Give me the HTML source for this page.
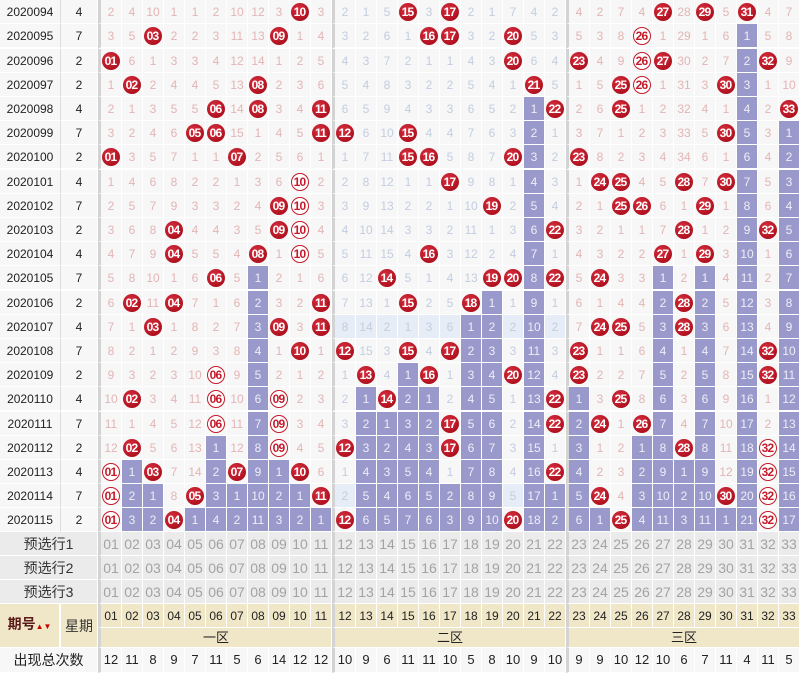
<!DOCTYPE html>
<html><head><meta charset="utf-8">
<style>
html,body{margin:0;padding:0;background:#fff;}
body{width:803px;height:671px;overflow:hidden;font-family:"Liberation Sans","Noto Sans CJK SC",sans-serif;}
table{border-collapse:separate;border-spacing:0;table-layout:fixed;}
td{padding:0;text-align:center;vertical-align:middle;border-right:1px solid #fff;border-bottom:1px solid #fff;background:#f7f7f7;font-size:12px;line-height:14px;color:#e3b5b5;height:23px;width:20px;overflow:hidden;white-space:nowrap;}
td.a{width:59px;color:#222;font-size:12px;border-right:1px solid #ddd;}
td.w{width:36px;color:#222;font-size:12px;}
tr.d td:nth-child(n+14){color:#c3cde0;}
tr.d td:nth-child(n+25){color:#e3b5b5;}
tr.d td:nth-child(3),tr.d td:nth-child(14),tr.d td:nth-child(25),td.s{border-left:3px solid #d3d3d3;}
tr.g td{border-bottom:2px solid #fff;}
tr.d td.p{background:#9999cc;color:#eeeef8;}
tr.d td.q{background:#e6edf7;}
b,i{display:inline-block;width:18px;height:18px;border-radius:50%;box-sizing:border-box;line-height:18px;font-size:12px;font-weight:bold;font-style:normal;letter-spacing:-0.8px;text-indent:-1px;vertical-align:middle;}
b{background:radial-gradient(circle at 40% 35%,#d8303f,#b0111f 70%,#8e0c18);color:#fff;}
i{background:#fff;border:1px solid #c41a2a;color:#c41a2a;line-height:16px;}
tr.y td{background:#ebebeb;color:#a3a3a3;font-size:14px;height:23px;}
tr.y td.l{color:#333;font-size:14px;}
tr.h td{background:#f0e6c8;color:#222;font-size:12px;}
tr.t td{background:#f7f7f7;color:#222;font-size:13px;height:24px;}
</style></head><body>
<table>
<tr class="d"><td class="a">2020094</td><td class="w">4</td><td>2</td><td>4</td><td>10</td><td>1</td><td>1</td><td>2</td><td>10</td><td>12</td><td>3</td><td><b>10</b></td><td>3</td><td>2</td><td>1</td><td>5</td><td><b>15</b></td><td>3</td><td><b>17</b></td><td>2</td><td>1</td><td>7</td><td>4</td><td>2</td><td>4</td><td>2</td><td>7</td><td>4</td><td><b>27</b></td><td>28</td><td><b>29</b></td><td>5</td><td><b>31</b></td><td>4</td><td>7</td></tr>
<tr class="d g"><td class="a">2020095</td><td class="w">7</td><td>3</td><td>5</td><td><b>03</b></td><td>2</td><td>2</td><td>3</td><td>11</td><td>13</td><td><b>09</b></td><td>1</td><td>4</td><td>3</td><td>2</td><td>6</td><td>1</td><td><b>16</b></td><td><b>17</b></td><td>3</td><td>2</td><td><b>20</b></td><td>5</td><td>3</td><td>5</td><td>3</td><td>8</td><td><i>26</i></td><td>1</td><td>29</td><td>1</td><td>6</td><td class="p">1</td><td>5</td><td>8</td></tr>
<tr class="d"><td class="a">2020096</td><td class="w">2</td><td><b>01</b></td><td>6</td><td>1</td><td>3</td><td>3</td><td>4</td><td>12</td><td>14</td><td>1</td><td>2</td><td>5</td><td>4</td><td>3</td><td>7</td><td>2</td><td>1</td><td>1</td><td>4</td><td>3</td><td><b>20</b></td><td>6</td><td>4</td><td><b>23</b></td><td>4</td><td>9</td><td><i>26</i></td><td><b>27</b></td><td>30</td><td>2</td><td>7</td><td class="p">2</td><td><b>32</b></td><td>9</td></tr>
<tr class="d"><td class="a">2020097</td><td class="w">2</td><td>1</td><td><b>02</b></td><td>2</td><td>4</td><td>4</td><td>5</td><td>13</td><td><b>08</b></td><td>2</td><td>3</td><td>6</td><td>5</td><td>4</td><td>8</td><td>3</td><td>2</td><td>2</td><td>5</td><td>4</td><td>1</td><td><b>21</b></td><td>5</td><td>1</td><td>5</td><td><b>25</b></td><td><i>26</i></td><td>1</td><td>31</td><td>3</td><td><b>30</b></td><td class="p">3</td><td>1</td><td>10</td></tr>
<tr class="d"><td class="a">2020098</td><td class="w">4</td><td>2</td><td>1</td><td>3</td><td>5</td><td>5</td><td><b>06</b></td><td>14</td><td><b>08</b></td><td>3</td><td>4</td><td><b>11</b></td><td>6</td><td>5</td><td>9</td><td>4</td><td>3</td><td>3</td><td>6</td><td>5</td><td>2</td><td class="p">1</td><td><b>22</b></td><td>2</td><td>6</td><td><b>25</b></td><td>1</td><td>2</td><td>32</td><td>4</td><td>1</td><td class="p">4</td><td>2</td><td><b>33</b></td></tr>
<tr class="d"><td class="a">2020099</td><td class="w">7</td><td>3</td><td>2</td><td>4</td><td>6</td><td><b>05</b></td><td><b>06</b></td><td>15</td><td>1</td><td>4</td><td>5</td><td><b>11</b></td><td><b>12</b></td><td>6</td><td>10</td><td><b>15</b></td><td>4</td><td>4</td><td>7</td><td>6</td><td>3</td><td class="p">2</td><td>1</td><td>3</td><td>7</td><td>1</td><td>2</td><td>3</td><td>33</td><td>5</td><td><b>30</b></td><td class="p">5</td><td>3</td><td class="p">1</td></tr>
<tr class="d g"><td class="a">2020100</td><td class="w">2</td><td><b>01</b></td><td>3</td><td>5</td><td>7</td><td>1</td><td>1</td><td><b>07</b></td><td>2</td><td>5</td><td>6</td><td>1</td><td>1</td><td>7</td><td>11</td><td><b>15</b></td><td><b>16</b></td><td>5</td><td>8</td><td>7</td><td><b>20</b></td><td class="p">3</td><td>2</td><td><b>23</b></td><td>8</td><td>2</td><td>3</td><td>4</td><td>34</td><td>6</td><td>1</td><td class="p">6</td><td>4</td><td class="p">2</td></tr>
<tr class="d"><td class="a">2020101</td><td class="w">4</td><td>1</td><td>4</td><td>6</td><td>8</td><td>2</td><td>2</td><td>1</td><td>3</td><td>6</td><td><i>10</i></td><td>2</td><td>2</td><td>8</td><td>12</td><td>1</td><td>1</td><td><b>17</b></td><td>9</td><td>8</td><td>1</td><td class="p">4</td><td>3</td><td>1</td><td><b>24</b></td><td><b>25</b></td><td>4</td><td>5</td><td><b>28</b></td><td>7</td><td><b>30</b></td><td class="p">7</td><td>5</td><td class="p">3</td></tr>
<tr class="d"><td class="a">2020102</td><td class="w">7</td><td>2</td><td>5</td><td>7</td><td>9</td><td>3</td><td>3</td><td>2</td><td>4</td><td><b>09</b></td><td><i>10</i></td><td>3</td><td>3</td><td>9</td><td>13</td><td>2</td><td>2</td><td>1</td><td>10</td><td><b>19</b></td><td>2</td><td class="p">5</td><td>4</td><td>2</td><td>1</td><td><b>25</b></td><td><b>26</b></td><td>6</td><td>1</td><td><b>29</b></td><td>1</td><td class="p">8</td><td>6</td><td class="p">4</td></tr>
<tr class="d"><td class="a">2020103</td><td class="w">2</td><td>3</td><td>6</td><td>8</td><td><b>04</b></td><td>4</td><td>4</td><td>3</td><td>5</td><td><b>09</b></td><td><i>10</i></td><td>4</td><td>4</td><td>10</td><td>14</td><td>3</td><td>3</td><td>2</td><td>11</td><td>1</td><td>3</td><td class="p">6</td><td><b>22</b></td><td>3</td><td>2</td><td>1</td><td>1</td><td>7</td><td><b>28</b></td><td>1</td><td>2</td><td class="p">9</td><td><b>32</b></td><td class="p">5</td></tr>
<tr class="d"><td class="a">2020104</td><td class="w">4</td><td>4</td><td>7</td><td>9</td><td><b>04</b></td><td>5</td><td>5</td><td>4</td><td><b>08</b></td><td>1</td><td><i>10</i></td><td>5</td><td>5</td><td>11</td><td>15</td><td>4</td><td><b>16</b></td><td>3</td><td>12</td><td>2</td><td>4</td><td class="p">7</td><td>1</td><td>4</td><td>3</td><td>2</td><td>2</td><td><b>27</b></td><td>1</td><td><b>29</b></td><td>3</td><td class="p">10</td><td>1</td><td class="p">6</td></tr>
<tr class="d g"><td class="a">2020105</td><td class="w">7</td><td>5</td><td>8</td><td>10</td><td>1</td><td>6</td><td><b>06</b></td><td>5</td><td class="p">1</td><td>2</td><td>1</td><td>6</td><td>6</td><td>12</td><td><b>14</b></td><td>5</td><td>1</td><td>4</td><td>13</td><td><b>19</b></td><td><b>20</b></td><td class="p">8</td><td><b>22</b></td><td>5</td><td><b>24</b></td><td>3</td><td>3</td><td class="p">1</td><td>2</td><td class="p">1</td><td>4</td><td class="p">11</td><td>2</td><td class="p">7</td></tr>
<tr class="d"><td class="a">2020106</td><td class="w">2</td><td>6</td><td><b>02</b></td><td>11</td><td><b>04</b></td><td>7</td><td>1</td><td>6</td><td class="p">2</td><td>3</td><td>2</td><td><b>11</b></td><td>7</td><td>13</td><td>1</td><td><b>15</b></td><td>2</td><td>5</td><td><b>18</b></td><td class="p">1</td><td>1</td><td class="p">9</td><td>1</td><td>6</td><td>1</td><td>4</td><td>4</td><td class="p">2</td><td><b>28</b></td><td class="p">2</td><td>5</td><td class="p">12</td><td>3</td><td class="p">8</td></tr>
<tr class="d"><td class="a">2020107</td><td class="w">4</td><td>7</td><td>1</td><td><b>03</b></td><td>1</td><td>8</td><td>2</td><td>7</td><td class="p">3</td><td><b>09</b></td><td>3</td><td><b>11</b></td><td class="q">8</td><td class="q">14</td><td class="q">2</td><td class="q">1</td><td class="q">3</td><td class="q">6</td><td class="p">1</td><td class="p">2</td><td class="q">2</td><td class="p">10</td><td class="q">2</td><td>7</td><td><b>24</b></td><td><b>25</b></td><td>5</td><td class="p">3</td><td><b>28</b></td><td class="p">3</td><td>6</td><td class="p">13</td><td>4</td><td class="p">9</td></tr>
<tr class="d"><td class="a">2020108</td><td class="w">7</td><td>8</td><td>2</td><td>1</td><td>2</td><td>9</td><td>3</td><td>8</td><td class="p">4</td><td>1</td><td><b>10</b></td><td>1</td><td><b>12</b></td><td>15</td><td>3</td><td><b>15</b></td><td>4</td><td><b>17</b></td><td class="p">2</td><td class="p">3</td><td>3</td><td class="p">11</td><td>3</td><td><b>23</b></td><td>1</td><td>1</td><td>6</td><td class="p">4</td><td>1</td><td class="p">4</td><td>7</td><td class="p">14</td><td><b>32</b></td><td class="p">10</td></tr>
<tr class="d"><td class="a">2020109</td><td class="w">2</td><td>9</td><td>3</td><td>2</td><td>3</td><td>10</td><td><i>06</i></td><td>9</td><td class="p">5</td><td>2</td><td>1</td><td>2</td><td>1</td><td><b>13</b></td><td>4</td><td class="p">1</td><td><b>16</b></td><td>1</td><td class="p">3</td><td class="p">4</td><td><b>20</b></td><td class="p">12</td><td>4</td><td><b>23</b></td><td>2</td><td>2</td><td>7</td><td class="p">5</td><td>2</td><td class="p">5</td><td>8</td><td class="p">15</td><td><b>32</b></td><td class="p">11</td></tr>
<tr class="d g"><td class="a">2020110</td><td class="w">4</td><td>10</td><td><b>02</b></td><td>3</td><td>4</td><td>11</td><td><i>06</i></td><td>10</td><td class="p">6</td><td><i>09</i></td><td>2</td><td>3</td><td>2</td><td class="p">1</td><td><b>14</b></td><td class="p">2</td><td class="p">1</td><td>2</td><td class="p">4</td><td class="p">5</td><td>1</td><td class="p">13</td><td><b>22</b></td><td class="p">1</td><td>3</td><td><b>25</b></td><td>8</td><td class="p">6</td><td>3</td><td class="p">6</td><td>9</td><td class="p">16</td><td>1</td><td class="p">12</td></tr>
<tr class="d"><td class="a">2020111</td><td class="w">7</td><td>11</td><td>1</td><td>4</td><td>5</td><td>12</td><td><i>06</i></td><td>11</td><td class="p">7</td><td><i>09</i></td><td>3</td><td>4</td><td>3</td><td class="p">2</td><td class="p">1</td><td class="p">3</td><td class="p">2</td><td><b>17</b></td><td class="p">5</td><td class="p">6</td><td>2</td><td class="p">14</td><td><b>22</b></td><td class="p">2</td><td><b>24</b></td><td>1</td><td><b>26</b></td><td class="p">7</td><td>4</td><td class="p">7</td><td>10</td><td class="p">17</td><td>2</td><td class="p">13</td></tr>
<tr class="d"><td class="a">2020112</td><td class="w">2</td><td>12</td><td><b>02</b></td><td>5</td><td>6</td><td>13</td><td class="p">1</td><td>12</td><td class="p">8</td><td><i>09</i></td><td>4</td><td>5</td><td><b>12</b></td><td class="p">3</td><td class="p">2</td><td class="p">4</td><td class="p">3</td><td><b>17</b></td><td class="p">6</td><td class="p">7</td><td>3</td><td class="p">15</td><td>1</td><td class="p">3</td><td>1</td><td>2</td><td class="p">1</td><td class="p">8</td><td><b>28</b></td><td class="p">8</td><td>11</td><td class="p">18</td><td><i>32</i></td><td class="p">14</td></tr>
<tr class="d"><td class="a">2020113</td><td class="w">4</td><td><i>01</i></td><td class="p">1</td><td><b>03</b></td><td>7</td><td>14</td><td class="p">2</td><td><b>07</b></td><td class="p">9</td><td class="p">1</td><td><b>10</b></td><td>6</td><td>1</td><td class="p">4</td><td class="p">3</td><td class="p">5</td><td class="p">4</td><td>1</td><td class="p">7</td><td class="p">8</td><td>4</td><td class="p">16</td><td><b>22</b></td><td class="p">4</td><td>2</td><td>3</td><td class="p">2</td><td class="p">9</td><td class="p">1</td><td class="p">9</td><td>12</td><td class="p">19</td><td><i>32</i></td><td class="p">15</td></tr>
<tr class="d"><td class="a">2020114</td><td class="w">7</td><td><i>01</i></td><td class="p">2</td><td class="p">1</td><td>8</td><td><b>05</b></td><td class="p">3</td><td class="p">1</td><td class="p">10</td><td class="p">2</td><td class="p">1</td><td><b>11</b></td><td class="q">2</td><td class="p">5</td><td class="p">4</td><td class="p">6</td><td class="p">5</td><td class="p">2</td><td class="p">8</td><td class="p">9</td><td class="q">5</td><td class="p">17</td><td class="p">1</td><td class="p">5</td><td><b>24</b></td><td>4</td><td class="p">3</td><td class="p">10</td><td class="p">2</td><td class="p">10</td><td><b>30</b></td><td class="p">20</td><td><i>32</i></td><td class="p">16</td></tr>
<tr class="d"><td class="a">2020115</td><td class="w">2</td><td><i>01</i></td><td class="p">3</td><td class="p">2</td><td><b>04</b></td><td class="p">1</td><td class="p">4</td><td class="p">2</td><td class="p">11</td><td class="p">3</td><td class="p">2</td><td class="p">1</td><td><b>12</b></td><td class="p">6</td><td class="p">5</td><td class="p">7</td><td class="p">6</td><td class="p">3</td><td class="p">9</td><td class="p">10</td><td><b>20</b></td><td class="p">18</td><td class="p">2</td><td class="p">6</td><td class="p">1</td><td><b>25</b></td><td class="p">4</td><td class="p">11</td><td class="p">3</td><td class="p">11</td><td class="p">1</td><td class="p">21</td><td><i>32</i></td><td class="p">17</td></tr>
<tr class="y"><td class="l" colspan="2" style="border-right:1px solid #fff">预选行1</td><td class="s">01</td><td>02</td><td>03</td><td>04</td><td>05</td><td>06</td><td>07</td><td>08</td><td>09</td><td>10</td><td>11</td><td class="s">12</td><td>13</td><td>14</td><td>15</td><td>16</td><td>17</td><td>18</td><td>19</td><td>20</td><td>21</td><td>22</td><td class="s">23</td><td>24</td><td>25</td><td>26</td><td>27</td><td>28</td><td>29</td><td>30</td><td>31</td><td>32</td><td>33</td></tr>
<tr class="y"><td class="l" colspan="2" style="border-right:1px solid #fff">预选行2</td><td class="s">01</td><td>02</td><td>03</td><td>04</td><td>05</td><td>06</td><td>07</td><td>08</td><td>09</td><td>10</td><td>11</td><td class="s">12</td><td>13</td><td>14</td><td>15</td><td>16</td><td>17</td><td>18</td><td>19</td><td>20</td><td>21</td><td>22</td><td class="s">23</td><td>24</td><td>25</td><td>26</td><td>27</td><td>28</td><td>29</td><td>30</td><td>31</td><td>32</td><td>33</td></tr>
<tr class="y"><td class="l" colspan="2" style="border-right:1px solid #fff">预选行3</td><td class="s">01</td><td>02</td><td>03</td><td>04</td><td>05</td><td>06</td><td>07</td><td>08</td><td>09</td><td>10</td><td>11</td><td class="s">12</td><td>13</td><td>14</td><td>15</td><td>16</td><td>17</td><td>18</td><td>19</td><td>20</td><td>21</td><td>22</td><td class="s">23</td><td>24</td><td>25</td><td>26</td><td>27</td><td>28</td><td>29</td><td>30</td><td>31</td><td>32</td><td>33</td></tr>
<tr class="h" style="height:21px"><td rowspan="2" style="width:59px;height:39px;font-size:14px;font-weight:bold;color:#5a1a1a;border-right:2px solid #fff">期号<span style="font-size:8px;color:#c00">&#9650;&#9660;</span></td><td rowspan="2" style="width:36px;height:39px;font-size:14px;color:#333">星期</td><td class="s" style="height:20px">01</td><td style="height:20px">02</td><td>03</td><td>04</td><td>05</td><td>06</td><td>07</td><td>08</td><td>09</td><td>10</td><td>11</td><td class="s">12</td><td>13</td><td>14</td><td>15</td><td>16</td><td>17</td><td>18</td><td>19</td><td>20</td><td>21</td><td>22</td><td class="s">23</td><td>24</td><td>25</td><td>26</td><td>27</td><td>28</td><td>29</td><td>30</td><td>31</td><td>32</td><td>33</td></tr>
<tr class="h" style="height:20px"><td class="s" colspan="11" style="height:19px;font-size:13px">一区</td><td class="s" colspan="11" style="height:19px;font-size:13px">二区</td><td class="s" colspan="11" style="height:19px;font-size:13px">三区</td></tr>
<tr class="t"><td colspan="2" style="font-size:14px">出现总次数</td><td class="s">12</td><td>11</td><td>8</td><td>9</td><td>7</td><td>11</td><td>5</td><td>6</td><td>14</td><td>12</td><td>12</td><td class="s">10</td><td>9</td><td>6</td><td>11</td><td>11</td><td>10</td><td>5</td><td>8</td><td>10</td><td>9</td><td>10</td><td class="s">9</td><td>9</td><td>10</td><td>12</td><td>10</td><td>6</td><td>7</td><td>11</td><td>4</td><td>11</td><td>5</td></tr>
</table>
</body></html>
